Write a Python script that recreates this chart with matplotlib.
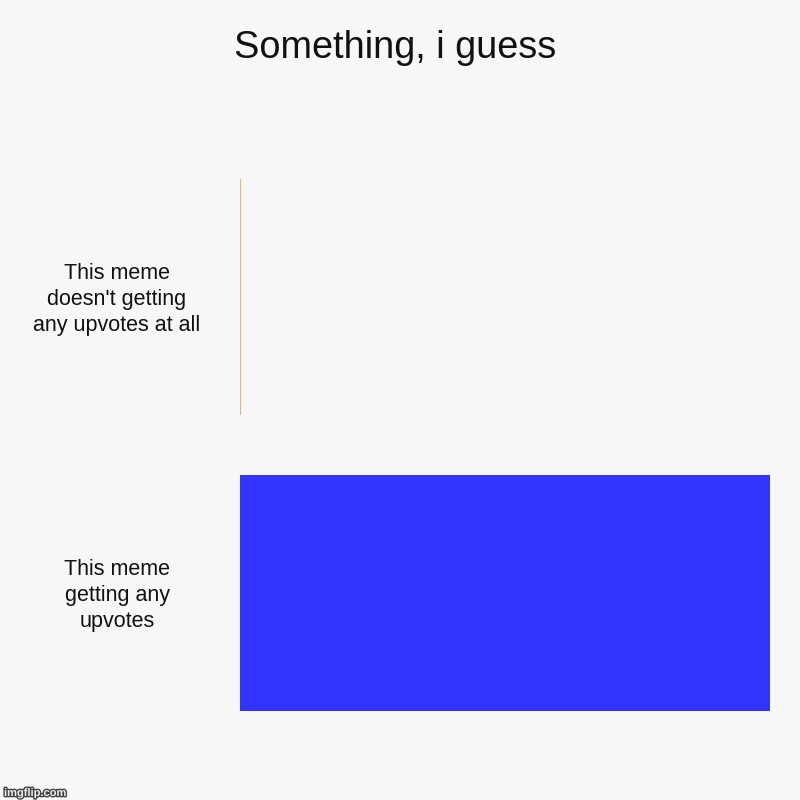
import matplotlib
matplotlib.use('Agg')
import matplotlib.pyplot as plt
import matplotlib.patheffects as pe

plt.rcParams['font.family'] = ['Liberation Sans', 'DejaVu Sans']

# ── Data ─────────────────────────────────────────────────────────────────────
categorias = ["This meme\ndoesn't getting\nany upvotes at all",
              "This meme\ngetting any\nupvotes"]
valores = [0.2, 100]
colores = ['#ffb347', '#3333ff']
titulo = 'Something, i guess'

bg = '#f7f7f7'

fig = plt.figure(figsize=(8, 8), dpi=100, facecolor=bg)
ax = fig.add_axes([240/800, 1 - 741/800, 530/800, 592/800], facecolor=bg)

pos = list(range(len(categorias)))
ax.barh(pos, valores, height=0.795, color=colores, edgecolor='none')
ax.set_xlim(0, max(valores))
ax.set_ylim(len(categorias) - 0.5, -0.5)

for s in ax.spines.values():
    s.set_visible(False)
ax.set_xticks([])
ax.set_yticks([])

# etiquetas de categoría centradas a la izquierda
for p, cat in zip(pos, categorias):
    ax.text(-123/530 * max(valores), p + 0.008, cat, ha='center', va='center',
            fontsize=15.5, color='#111111', linespacing=1.3,
            transform=ax.transData)

fig.text(395/800, 1 - 48/800, titulo, ha='center', va='center', fontsize=27.3, color='#111111')

fig.text(4/800, 1 - 793/800, 'imgflip.com', ha='left', va='center', fontsize=8,
         color='#eeeeee', fontweight='bold',
         path_effects=[pe.withStroke(linewidth=2, foreground='#444444')])

fig.savefig('out.png', dpi=100, facecolor=bg)
